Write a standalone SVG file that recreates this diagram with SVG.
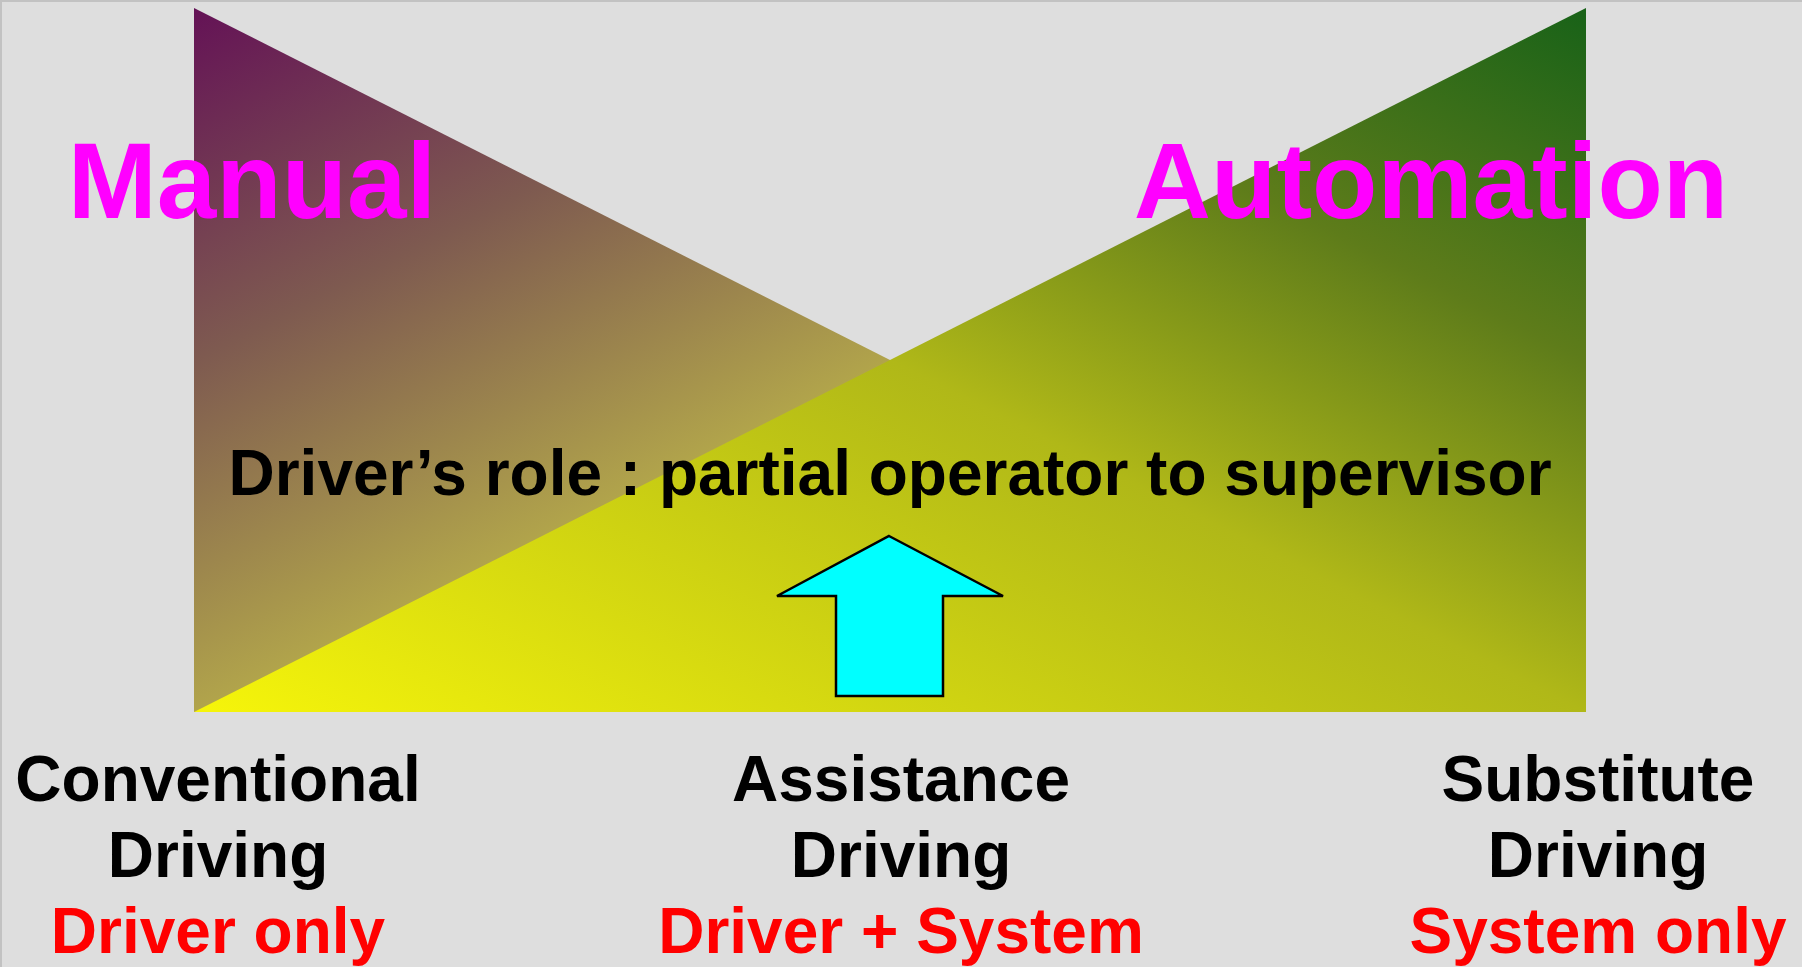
<svg xmlns="http://www.w3.org/2000/svg" width="1802" height="967" viewBox="0 0 1802 967">
  <defs>
    <!-- manual share: purple fading toward tan/yellow -->
    <linearGradient id="gradManual" x1="0" y1="0" x2="1" y2="1">
      <stop offset="0" stop-color="#641256"/>
      <stop offset="0.25" stop-color="#7E5A50"/>
      <stop offset="0.5" stop-color="#B1A44B"/>
      <stop offset="1" stop-color="#F0E800"/>
    </linearGradient>
    <!-- automation share: green fading toward yellow -->
    <linearGradient id="gradAuto" x1="1" y1="0" x2="0" y2="1">
      <stop offset="0" stop-color="#186218"/>
      <stop offset="0.25" stop-color="#5E7C1A"/>
      <stop offset="0.5" stop-color="#B0B818"/>
      <stop offset="1" stop-color="#F6F50A"/>
    </linearGradient>
    <style>
      .title { font-family: "Liberation Sans", Arial, sans-serif; font-weight: bold; font-size: 107px; fill: #FF00FF; text-anchor: middle; }
      .role { font-family: "Liberation Sans", Arial, sans-serif; font-weight: bold; font-size: 64px; fill: #000000; text-anchor: middle; }
      .mode { font-family: "Liberation Sans", Arial, sans-serif; font-weight: bold; font-size: 64px; fill: #000000; text-anchor: middle; }
      .who { font-family: "Liberation Sans", Arial, sans-serif; font-weight: bold; font-size: 64px; fill: #FF0000; text-anchor: middle; }
    </style>
  </defs>

  <!-- background with thin top/left rule -->
  <rect x="0" y="0" width="1802" height="967" fill="#DEDEDE"/>
  <line x1="0" y1="1" x2="1802" y2="1" stroke="#C2C2C2" stroke-width="2"/>
  <line x1="1" y1="0" x2="1" y2="967" stroke="#C2C2C2" stroke-width="2"/>

  <!-- manual wedge -->
  <g id="wedge-manual">
    <polygon points="194,8 194,712 1586,712" fill="url(#gradManual)"/>
  </g>

  <!-- automation wedge -->
  <g id="wedge-automation">
    <polygon points="1586,8 1586,712 194,712" fill="url(#gradAuto)"/>
  </g>

  <g id="label-manual">
    <text class="title" x="252" y="218">Manual</text>
  </g>
  <g id="label-automation">
    <text class="title" x="1431" y="218">Automation</text>
  </g>

  <g id="label-role">
    <text class="role" x="890" y="495">Driver’s role : partial operator to supervisor</text>
  </g>

  <!-- upward arrow -->
  <g id="arrow-up">
    <polygon points="889,536 1003,596 943,596 943,696 836,696 836,596 777,596" fill="#00FFFF" stroke="#000000" stroke-width="2.5" stroke-linejoin="miter"/>
  </g>

  <g id="mode-conventional">
    <text class="mode" x="218" y="801">Conventional</text>
    <text class="mode" x="218" y="877">Driving</text>
    <text class="who" x="218" y="953">Driver only</text>
  </g>

  <g id="mode-assistance">
    <text class="mode" x="901" y="801">Assistance</text>
    <text class="mode" x="901" y="877">Driving</text>
    <text class="who" x="901" y="953">Driver + System</text>
  </g>

  <g id="mode-substitute">
    <text class="mode" x="1598" y="801">Substitute</text>
    <text class="mode" x="1598" y="877">Driving</text>
    <text class="who" x="1598" y="953">System only</text>
  </g>
</svg>
